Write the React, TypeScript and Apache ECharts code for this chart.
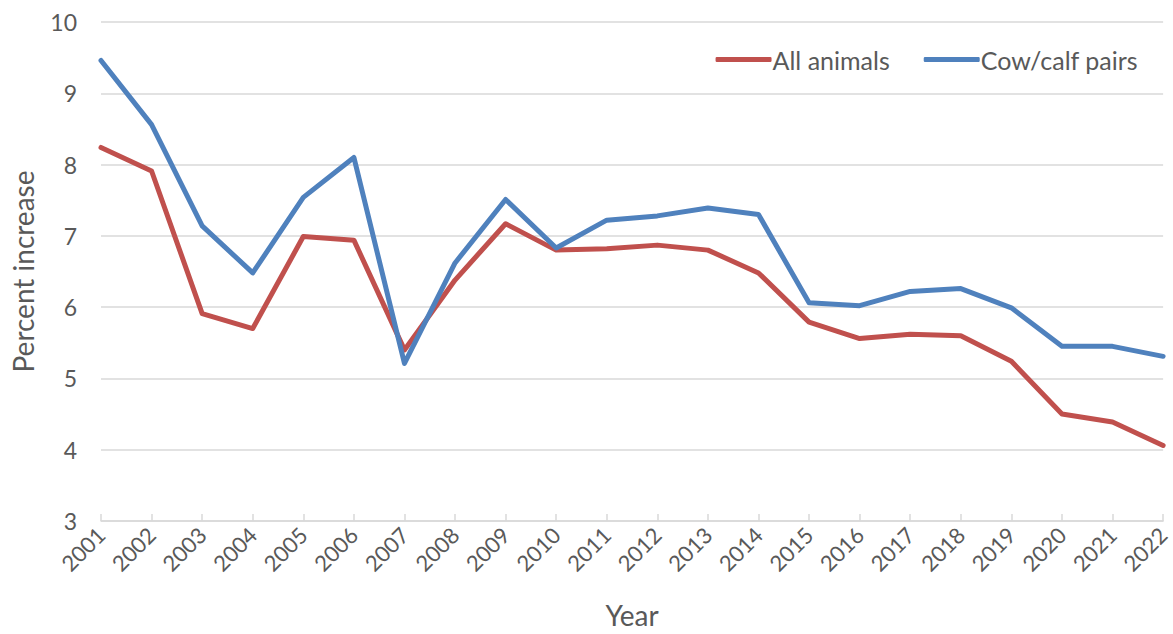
import React, { useEffect, useRef } from "react";
import * as echarts from "echarts";

const years = ["2001","2002","2003","2004","2005","2006","2007","2008","2009","2010","2011","2012","2013","2014","2015","2016","2017","2018","2019","2020","2021","2022"];
const allAnimals = [8.24, 7.91, 5.91, 5.7, 6.99, 6.94, 5.4, 6.38, 7.17, 6.8, 6.82, 6.87, 6.8, 6.48, 5.79, 5.56, 5.62, 5.6, 5.24, 4.5, 4.39, 4.06];
const cowCalfPairs = [9.46, 8.56, 7.14, 6.48, 7.54, 8.1, 5.21, 6.62, 7.51, 6.83, 7.22, 7.28, 7.39, 7.3, 6.06, 6.02, 6.22, 6.26, 5.99, 5.45, 5.45, 5.31];
const seriesNames = ["All animals", "Cow/calf pairs"];
const colors = ["#C0504D", "#4F81BD"];

const FONT = "Lato, 'Open Sans', sans-serif";
const TEXT = "#595959";

export default function App() {
  const ref = useRef<HTMLDivElement>(null);
  useEffect(() => {
    if (!ref.current) return;
    const chart = echarts.init(ref.current, null, { renderer: "svg" });
    chart.setOption({
      animation: false,
      backgroundColor: "#ffffff",
      textStyle: { fontFamily: FONT },
      grid: { left: 101, right: 8, top: 22, bottom: 110, containLabel: false },
      legend: {
        right: 30,
        top: 42,
        icon: "roundRect",
        itemWidth: 56,
        itemHeight: 5,
        itemGap: 34,
        data: seriesNames,
        textStyle: { fontFamily: FONT, fontSize: 25, color: TEXT, padding: [0, 0, 0, -4] },
      },
      xAxis: {
        type: "category",
        data: years,
        boundaryGap: false,
        name: "Year",
        nameLocation: "middle",
        nameGap: 80,
        nameTextStyle: { fontFamily: FONT, fontSize: 28, color: TEXT },
        axisLine: { lineStyle: { color: "#d9d9d9", width: 1.5 } },
        axisTick: { show: true, inside: true, length: 7, lineStyle: { color: "#d9d9d9", width: 1.5 } },
        axisLabel: { rotate: 45, fontFamily: FONT, fontSize: 22, color: TEXT, margin: 10 },
        splitLine: { show: false },
      },
      yAxis: {
        type: "value",
        min: 3,
        max: 10,
        interval: 1,
        name: "Percent increase",
        nameLocation: "middle",
        nameGap: 64,
        nameTextStyle: { fontFamily: FONT, fontSize: 28, color: TEXT },
        axisLine: { show: false },
        axisTick: { show: false },
        axisLabel: { fontFamily: FONT, fontSize: 23, color: TEXT, margin: 24 },
        splitLine: { lineStyle: { color: "#d9d9d9", width: 1.5 } },
      },
      series: [
        {
          name: seriesNames[0],
          type: "line",
          data: allAnimals,
          symbol: "none",
          color: colors[0],
          lineStyle: { width: 5, color: colors[0], cap: "round", join: "round" },
        },
        {
          name: seriesNames[1],
          type: "line",
          data: cowCalfPairs,
          symbol: "none",
          color: colors[1],
          lineStyle: { width: 5, color: colors[1], cap: "round", join: "round" },
        },
      ],
    });
    return () => chart.dispose();
  }, []);
  return <div ref={ref} style={{ position: "fixed", left: 0, top: 0, width: 1173, height: 634 }} />;
}
